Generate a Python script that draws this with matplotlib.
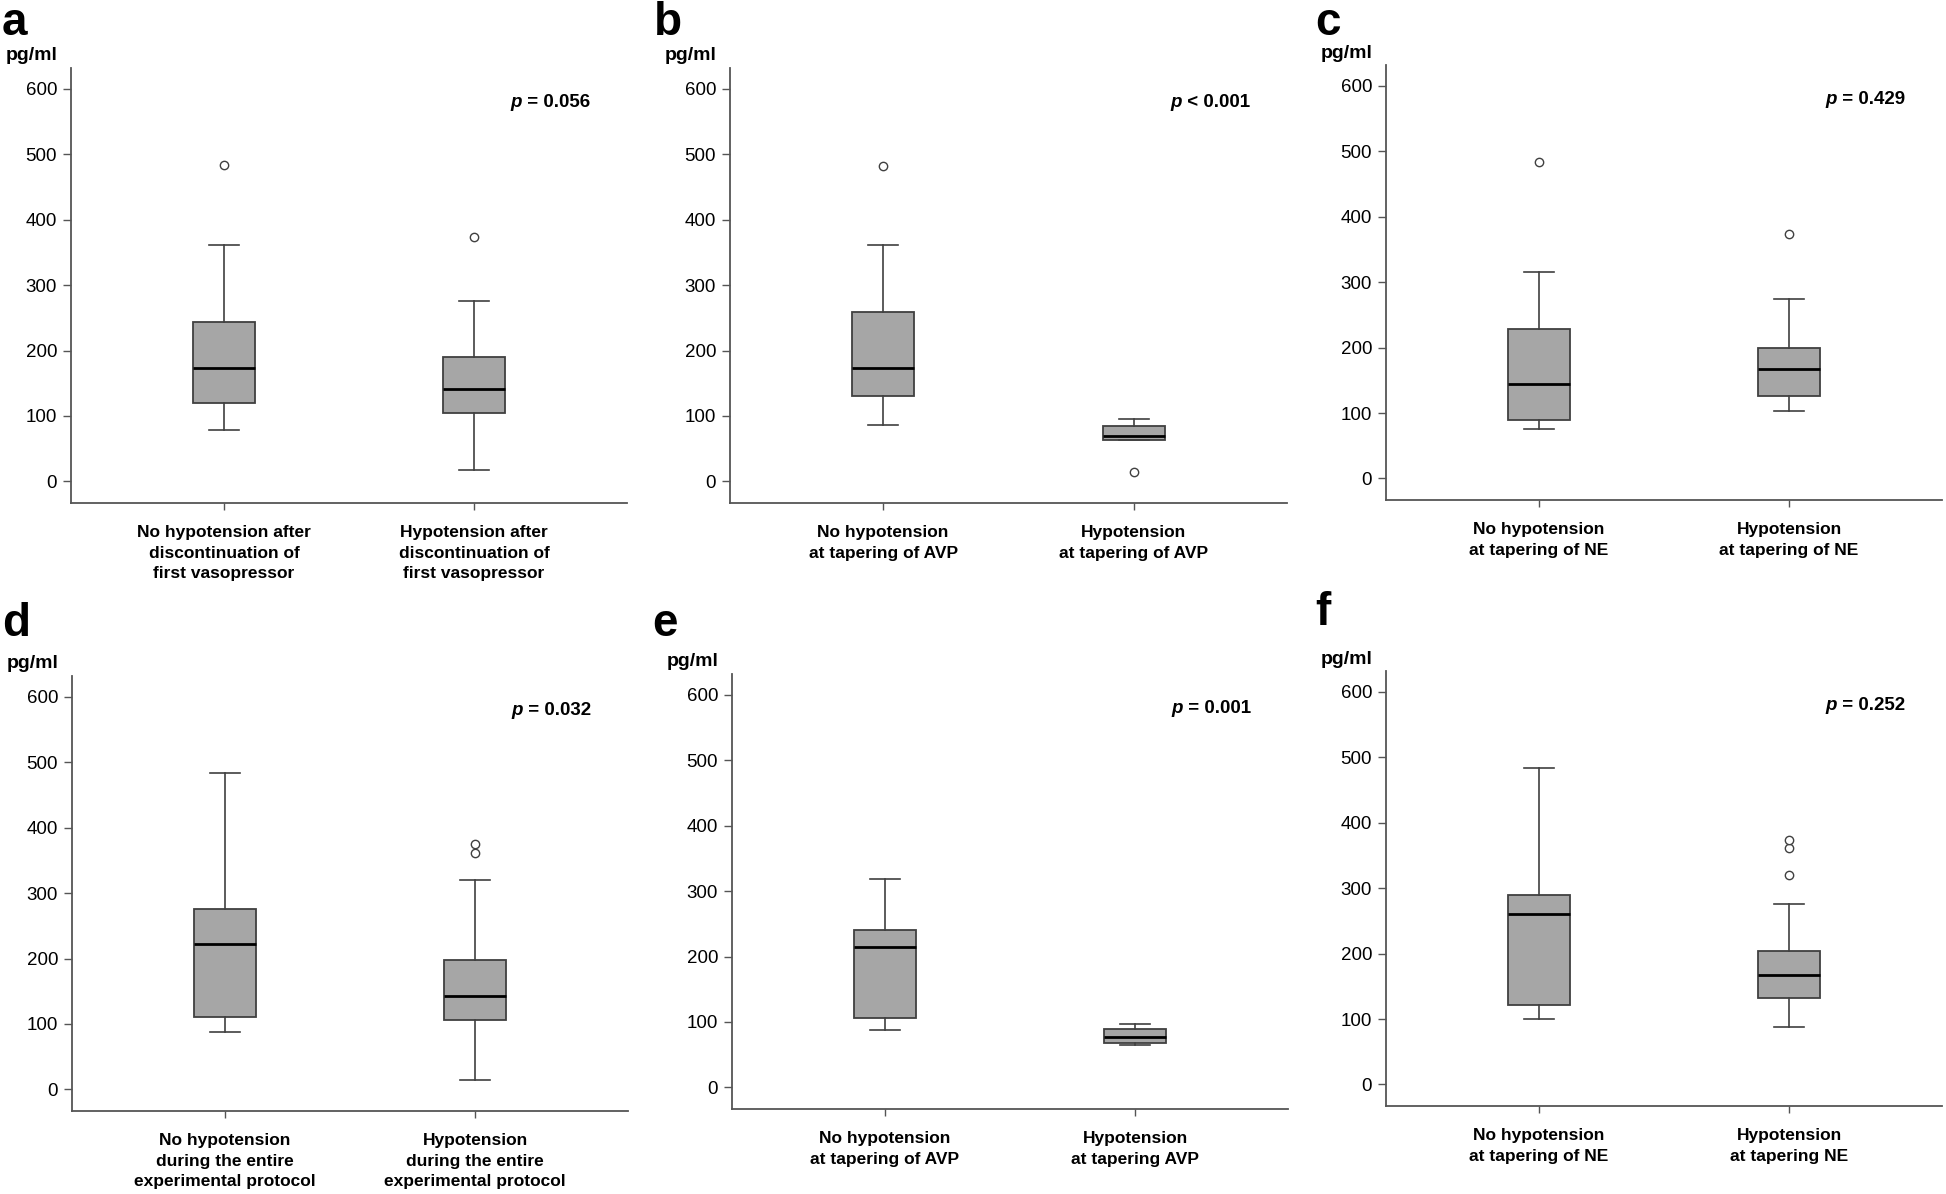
import matplotlib
matplotlib.use('Agg')
import matplotlib.pyplot as plt

plt.rcParams['font.family'] = ['Liberation Sans', 'DejaVu Sans']

# box statistics per panel: [no hypotension, hypotension]
panels = ['a', 'b', 'c', 'd', 'e', 'f']
whisker_low = [[79, 17], [87, 63], [76, 103], [88, 15], [88, 65], [100, 88]]
q1 = [[120, 105], [131, 64], [90, 126], [111, 106], [106, 68], [122, 132]]
median = [[174, 141], [174, 69], [145, 168], [222, 143], [215, 77], [260, 167]]
q3 = [[244, 190], [259, 84], [228, 200], [276, 198], [241, 89], [290, 204]]
whisker_high = [[362, 276], [361, 96], [315, 275], [483, 320], [318, 97], [483, 276]]
outliers = [[[484], [374]], [[482], [15]], [[484], [374]],
            [[], [362, 375]], [[], []], [[], [320, 361, 374]]]
p_values = ['= 0.056', '< 0.001', '= 0.429', '= 0.032', '= 0.001', '= 0.252']
group_labels = [
    ['No hypotension after\ndiscontinuation of\nfirst vasopressor',
     'Hypotension after\ndiscontinuation of\nfirst vasopressor'],
    ['No hypotension\nat tapering of AVP', 'Hypotension\nat tapering of AVP'],
    ['No hypotension\nat tapering of NE', 'Hypotension\nat tapering of NE'],
    ['No hypotension\nduring the entire\nexperimental protocol',
     'Hypotension\nduring the entire\nexperimental protocol'],
    ['No hypotension\nat tapering of AVP', 'Hypotension\nat tapering AVP'],
    ['No hypotension\nat tapering of NE', 'Hypotension\nat tapering NE'],
]
y_ticks = [0, 100, 200, 300, 400, 500, 600]

W, H = 1946, 1194
fig = plt.figure(figsize=(W / 100, H / 100), dpi=100)

# axes rectangles in pixels: left, top, right, bottom
rects = [
    (71, 68, 627, 503), (730, 68, 1287, 503), (1386, 65, 1942, 500),
    (72, 676, 628, 1111), (732, 674, 1288, 1109), (1386, 671, 1942, 1106),
]
letter_pos = [(2, 35), (654, 35), (1315, 35), (2, 636), (652, 636), (1315, 625)]

grey = '#404040'
for i, name in enumerate(panels):
    l, t, r, b = rects[i]
    ax = fig.add_axes([l / W, 1 - b / H, (r - l) / W, (b - t) / H])
    stats = []
    for j in range(2):
        stats.append(dict(whislo=whisker_low[i][j], q1=q1[i][j], med=median[i][j],
                          q3=q3[i][j], whishi=whisker_high[i][j],
                          fliers=outliers[i][j]))
    ax.bxp(stats, positions=[1, 2], widths=0.25, capwidths=0.12,
           patch_artist=True,
           boxprops=dict(facecolor='#a6a6a6', edgecolor=grey, linewidth=1.3),
           medianprops=dict(color='black', linewidth=2),
           whiskerprops=dict(color=grey, linewidth=1.2),
           capprops=dict(color=grey, linewidth=1.2),
           flierprops=dict(marker='o', markerfacecolor='white',
                           markeredgecolor=grey, markersize=6,
                           markeredgewidth=1))
    ax.set_xlim(0.389, 2.611)
    ax.set_ylim(-33, 632)
    ax.set_yticks(y_ticks)
    ax.set_xticks([1, 2])
    ax.set_xticklabels(group_labels[i], fontsize=12.5, fontweight='bold',
                       linespacing=1.45)
    for s in ['top', 'right']:
        ax.spines[s].set_visible(False)
    for s in ['left', 'bottom']:
        ax.spines[s].set_color('#555555')
        ax.spines[s].set_linewidth(1.3)
    ax.tick_params(axis='y', labelsize=13.5, length=6, width=1,
                   color='#555555', pad=4)
    ax.tick_params(axis='x', length=5, width=1, color='#555555', pad=11)

    ax.annotate('pg/ml', xy=(0, 1), xycoords='axes fraction',
                xytext=(-65, 12), textcoords='offset pixels',
                ha='left', va='center', fontsize=14, fontweight='bold')

    ptxt = ax.text(0.79, 0.92, 'p', transform=ax.transAxes, fontsize=13.5,
                   fontweight='bold', style='italic', ha='left', va='center')
    ax.annotate(' ' + p_values[i], xy=(1, 0), xycoords=ptxt, ha='left',
                va='bottom', fontsize=13.5, fontweight='bold')

    lx, ly = letter_pos[i]
    fig.text(lx / W, 1 - ly / H, name, fontsize=33, fontweight='bold',
             va='baseline', ha='left')

fig.savefig('out.png', dpi=100, facecolor='white')
